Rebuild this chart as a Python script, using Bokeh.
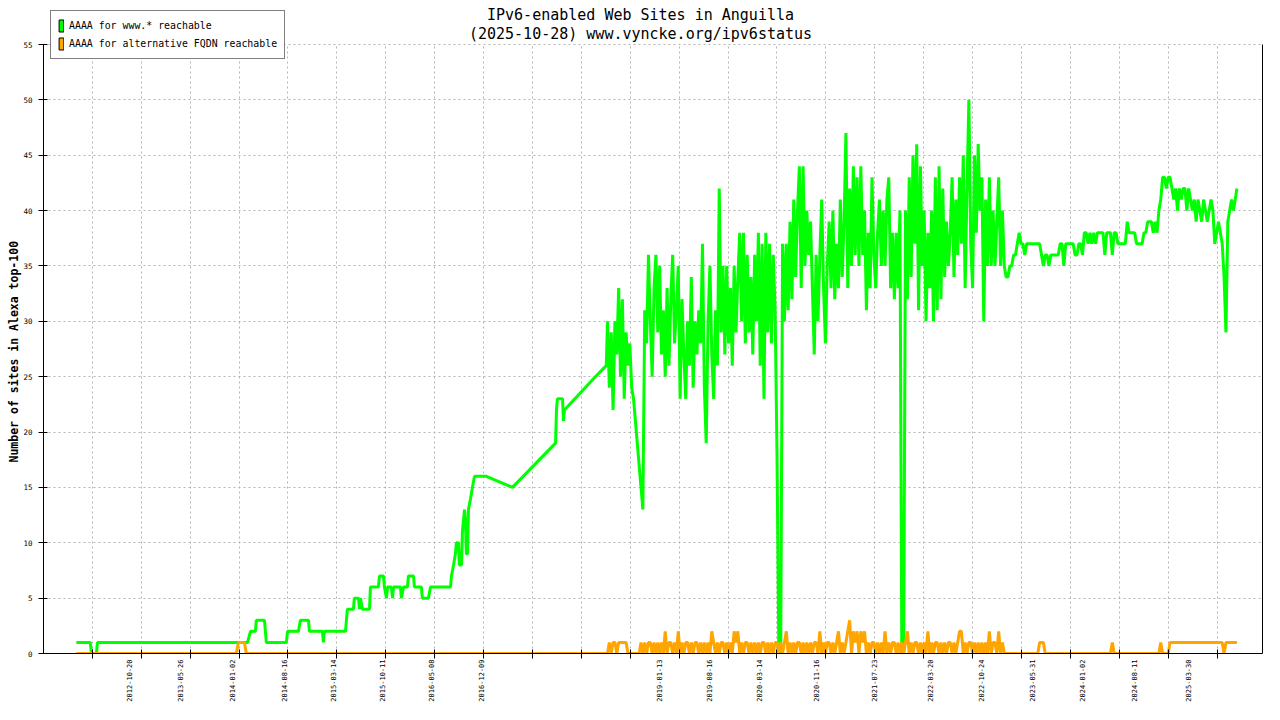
import pandas as pd
from bokeh.plotting import figure
from bokeh.models import (Range1d, FixedTicker, LinearAxis, Label, Legend, LegendItem,
                          DatetimeTickFormatter, Title)
from bokeh.embed import file_html
from bokeh.resources import INLINE

FONT = "DejaVu Sans Mono"

title_line1 = "IPv6-enabled Web Sites in Anguilla"
title_line2 = "(2025-10-28) www.vyncke.org/ipv6status"
y_label = "Number of sites in Alexa top-100"
series_names = ["AAAA for www.* reachable", "AAAA for alternative FQDN reachable"]
series_colors = ["#00ff00", "#ffa500"]

y_ticks = [0, 5, 10, 15, 20, 25, 30, 35, 40, 45, 50, 55]
y_max = 55
xtick_labels = ["2012-10-20", "2013-05-26", "2014-01-02", "2014-08-16", "2015-03-14",
                "2015-10-11", "2016-05-08", "2016-12-09", "2019-01-13", "2019-08-16",
                "2020-03-14", "2020-11-16", "2021-07-23", "2022-03-20", "2022-10-24",
                "2023-05-31", "2024-01-02", "2024-08-11", "2025-03-30"]
x_start = "2011-10-17"
x_end = "2026-02-15"
xtick_step_days = 210
xtick_count = 24

# sparse early period: www.* reachable
early_dates = ["2012-03-06", "2012-05-05", "2012-05-10", "2012-05-31", "2012-06-05",
               "2014-03-11", "2014-03-24", "2014-04-14", "2014-04-18", "2014-05-23", "2014-05-31",
               "2014-08-25", "2014-08-30", "2014-10-16", "2014-10-24", "2014-11-28", "2014-12-02",
               "2015-01-27", "2015-01-31", "2015-02-04", "2015-05-06", "2015-05-14", "2015-06-09",
               "2015-06-13", "2015-07-01", "2015-07-05", "2015-07-09", "2015-07-18", "2015-08-17",
               "2015-08-21", "2015-09-24", "2015-09-29", "2015-10-16", "2015-10-20", "2015-10-29",
               "2015-11-02", "2015-11-19", "2015-11-24", "2015-11-28", "2015-12-28", "2016-01-01",
               "2016-01-10", "2016-01-27", "2016-01-31", "2016-02-22", "2016-02-26", "2016-03-27",
               "2016-03-31", "2016-04-26", "2016-05-05", "2016-07-30", "2016-08-03", "2016-08-12",
               "2016-08-20", "2016-08-24", "2016-09-02", "2016-09-06", "2016-09-15", "2016-09-19",
               "2016-09-28", "2016-10-02", "2016-10-06", "2016-10-11", "2016-10-15", "2016-10-24",
               "2016-11-01", "2016-11-10", "2016-12-31", "2017-04-22", "2017-10-24", "2017-10-28",
               "2017-11-01", "2017-11-23", "2017-11-27", "2017-12-01", "2018-04-13", "2018-05-30"]
early_www = [1, 1, 0, 0, 1,
             1, 2, 2, 3, 3, 1,
             1, 2, 2, 3, 3, 2,
             2, 1, 2, 2, 4, 4,
             5, 5, 4, 5, 4, 4,
             6, 6, 7, 7, 6, 5,
             6, 6, 5, 6, 6, 5,
             6, 6, 7, 7, 6, 6,
             5, 5, 6, 6, 7, 8,
             9, 10, 10, 8, 8, 11,
             13, 12, 9, 9, 13, 14,
             15, 16, 16, 15, 19, 22,
             23, 23, 21, 22, 25, 26]

# sparse early period: alternative FQDN reachable
early_alt_dates = ["2012-03-06", "2014-01-22", "2014-01-31", "2014-02-26", "2014-03-06", "2018-05-30"]
early_alt = [0, 0, 1, 1, 0, 0]

# dense period, one reading every 8 days from grid_start
grid_start = "2018-06-04"
grid_step_days = 8
grid_www = [
    30, 24, 29, 22, 30, 27, 33, 25, 32, 23,
    29, 26, 28, 24, 23, 21, 19, 17, 15, 13,
    31, 28, 36, 30, 25, 33, 36, 29, 35, 27,
    31, 25, 33, 26, 32, 36, 28, 31, 35, 23,
    32, 27, 23, 30, 26, 34, 24, 30, 27, 31,
    28, 37, 24, 19, 30, 35, 27, 23, 31, 26,
    42, 29, 35, 27, 35, 28, 33, 26, 35, 29,
    34, 38, 30, 38, 28, 36, 29, 34, 27, 36,
    30, 38, 26, 37, 23, 38, 29, 37, 28, 36,
    31, 18, 0, 0, 37, 30, 37, 31, 39, 32,
    41, 34, 40, 44, 33, 44, 35, 40, 36, 39,
    33, 27, 36, 30, 36, 41, 33, 28, 35, 39,
    33, 40, 32, 37, 33, 41, 34, 39, 47, 33,
    42, 35, 44, 36, 43, 35, 44, 36, 40, 31,
    38, 33, 43, 36, 33, 38, 41, 35, 40, 35,
    41, 43, 33, 38, 32, 38, 33, 40, 0, 0,
    40, 32, 43, 34, 45, 37, 46, 31, 44, 35,
    40, 30, 38, 33, 40, 30, 43, 31, 44, 32,
    42, 34, 39, 35, 38, 43, 34, 41, 36, 43,
    37, 45, 33, 42, 50, 37, 33, 45, 38, 46,
    40, 43, 30, 41, 35, 43, 35, 40, 35, 39,
    43, 35, 40, 35,
    34, 34, 35, 35, 36, 36, 37, 38, 37, 37,
    36, 37, 37, 37, 37, 37, 37, 37, 37, 36,
    35, 36, 36, 35, 36, 36, 36, 36, 36, 37,
    37, 35, 37, 37, 37, 37, 37, 36, 36, 37,
    37, 36, 38, 38, 37, 38, 37, 38, 37, 38,
    38, 38, 38, 36, 38, 38, 38, 36, 38, 38,
    37, 37, 37, 37, 37, 39, 38, 38, 38, 38,
    37, 37, 37, 37, 38, 38, 39, 39, 39, 38,
    39, 38, 40, 41, 43, 43, 42, 43, 43, 42,
    41, 42, 40, 42, 41, 42, 42, 40, 42, 41,
    40, 41, 39, 41, 40, 39, 41, 40, 39, 40,
    41, 40, 37, 38, 39, 38, 37, 34, 29, 39,
    40, 41, 40, 41]
grid_alt = [
    0, 1, 0, 1, 1, 0, 1, 1, 1, 1,
    1, 0, 0, 0, 0, 0, 0, 0, 1, 0,
    1, 0, 1, 1, 0, 1, 0, 1, 0, 1,
    0, 2, 0, 1, 1, 0, 1, 0, 2, 0,
    1, 0, 1, 1, 0, 1, 0, 1, 1, 0,
    1, 0, 1, 0, 1, 0, 2, 1, 0, 1,
    0, 1, 1, 0, 1, 0, 1, 0, 2, 1,
    2, 0, 1, 0, 1, 1, 0, 1, 0, 1,
    0, 1, 0, 1, 1, 0, 1, 0, 1, 0,
    1, 1, 0, 1, 0, 1, 2, 0, 1, 0,
    1, 0, 1, 1, 0, 1, 0, 1, 0, 1,
    0, 1, 1, 0, 2, 0, 1, 0, 1, 1,
    0, 1, 0, 1, 2, 0, 1, 0, 1, 2,
    3, 0, 2, 1, 2, 0, 2, 1, 2, 0,
    1, 0, 1, 1, 0, 1, 0, 1, 0, 2,
    0, 1, 0, 1, 1, 0, 1, 0, 1, 0,
    1, 2, 0, 1, 0, 1, 1, 0, 1, 0,
    1, 0, 2, 0, 1, 0, 1, 1, 0, 1,
    0, 1, 0, 1, 1, 0, 1, 0, 1, 2,
    2, 0, 1, 0, 1, 1, 0, 1, 0, 1,
    0, 1, 0, 1, 0, 2, 0, 1, 1, 0,
    2, 0, 1, 0,
    0, 0, 0, 0, 0, 0, 0, 0, 0, 0,
    0, 0, 0, 0, 0, 0, 0, 0, 1, 1,
    1, 0, 0, 0, 0, 0, 0, 0, 0, 0,
    0, 0, 0, 0, 0, 0, 0, 0, 0, 0,
    0, 0, 0, 0, 0, 0, 0, 0, 0, 0,
    0, 0, 0, 0, 0, 0, 0, 1, 0, 0,
    0, 0, 0, 0, 0, 0, 0, 0, 0, 0,
    0, 0, 0, 0, 0, 0, 0, 0, 0, 0,
    0, 0, 0, 1, 0, 0, 0, 0, 1, 1,
    1, 1, 1, 1, 1, 1, 1, 1, 1, 1,
    1, 1, 1, 1, 1, 1, 1, 1, 1, 1,
    1, 1, 1, 1, 1, 1, 1, 0, 1, 1,
    1, 1, 1, 1]

last_date = "2025-10-28"
last_www = 42
last_alt = 1

# ---- assemble series ----
grid_dates = list(pd.date_range(grid_start, periods=len(grid_www), freq=f"{grid_step_days}D"))
www_x = list(pd.to_datetime(early_dates)) + grid_dates + [pd.Timestamp(last_date)]
www_y = early_www + grid_www + [last_www]
alt_x = list(pd.to_datetime(early_alt_dates)) + grid_dates + [pd.Timestamp(last_date)]
alt_y = early_alt + grid_alt + [last_alt]

label_ms = [pd.Timestamp(s).value / 1e6 for s in xtick_labels]
tick_ms = [(pd.Timestamp(x_start) + pd.Timedelta(days=xtick_step_days * n)).value / 1e6
           for n in range(1, xtick_count + 1)]

# ---- layout (pixels) ----
W, H = 1264, 704
BORDER_L, BORDER_R, BORDER_B = 43, 2, 51
FRAME_W = W - BORDER_L - BORDER_R
FRAME_H = H - BORDER_B            # frame reaches the top of the canvas
TOP_GAP = 44                      # px between frame top and the y=55 line
y_top = y_max * FRAME_H / (FRAME_H - TOP_GAP)

x0_ms = pd.Timestamp(x_start).value / 1e6
x1_ms = pd.Timestamp(x_end).value / 1e6

p = figure(width=W, height=H, output_backend="svg", toolbar_location=None,
           x_axis_type="datetime",
           x_range=Range1d(pd.Timestamp(x_start), pd.Timestamp(x_end)),
           y_range=Range1d(0, y_top),
           min_border_left=BORDER_L, min_border_right=BORDER_R,
           min_border_top=0, min_border_bottom=BORDER_B)
p.title = None
p.outline_line_color = None
p.background_fill_color = "white"
p.border_fill_color = "white"

p.line(www_x, www_y, line_color=series_colors[0], line_width=3)
p.line(alt_x, alt_y, line_color=series_colors[1], line_width=3)

# hidden bar renderers: they only give the legend its coloured boxes
sw_g = p.vbar(x=www_x, top=www_y, width=0, fill_color=series_colors[0], line_color="black",
              visible=False)
sw_o = p.vbar(x=alt_x, top=alt_y, width=0, fill_color=series_colors[1], line_color="black",
              visible=False)

legend = Legend(items=[LegendItem(label=series_names[0], renderers=[sw_g]),
                       LegendItem(label=series_names[1], renderers=[sw_o])],
                location=(7, FRAME_H - 59), margin=0, padding=7, spacing=3,
                glyph_width=6, glyph_height=15, label_height=15, label_standoff=5,
                label_text_font=FONT, label_text_font_size="9.9px", label_text_color="black",
                border_line_color="black", border_line_width=1,
                background_fill_color="white", background_fill_alpha=1.0,
                inactive_fill_alpha=0.0, click_policy="none")
p.add_layout(legend)

# x axis
xa = p.xaxis[0]
xa.ticker = FixedTicker(ticks=label_ms, minor_ticks=tick_ms)
fmt = "%Y-%m-%d"
xa.formatter = DatetimeTickFormatter(microseconds=fmt, milliseconds=fmt, seconds=fmt, minsec=fmt,
                                     minutes=fmt, hourmin=fmt, hours=fmt, days=fmt,
                                     months=fmt, years=fmt)
xa.major_label_orientation = 1.5707963267948966
xa.major_tick_line_color = None
xa.major_tick_in = 0
xa.major_tick_out = 0
xa.minor_tick_line_color = "black"
xa.minor_tick_in = 4
xa.minor_tick_out = 5
xa.major_label_standoff = 1
xa.major_label_text_font = FONT
xa.major_label_text_font_size = "7px"
xa.major_label_text_color = "black"
xa.axis_line_color = "black"

# y axis
ya = p.yaxis[0]
ya.bounds = (0, y_max)
ya.ticker = FixedTicker(ticks=y_ticks)
ya.minor_tick_line_color = None
ya.major_tick_in = 4
ya.major_tick_out = 5
ya.major_label_standoff = 6
ya.major_label_text_font = FONT
ya.major_label_text_font_size = "7.5px"
ya.major_label_text_color = "black"
ya.axis_line_color = "black"

# y axis title, placed along the 0..55 part of the axis
p.add_layout(Title(text=y_label, align="left", offset=191, standoff=0,
                   text_font=FONT, text_font_style="bold", text_font_size="11.5px",
                   text_color="black"), "left")

# right border
rax = LinearAxis(ticker=FixedTicker(ticks=[]), bounds=(0, y_max), major_label_text_font_size="0px",
                 major_tick_line_color=None, minor_tick_line_color=None,
                 major_tick_out=0, minor_tick_out=0, major_tick_in=0, minor_tick_in=0,
                 major_label_standoff=0, axis_line_color="black")
p.add_layout(rax, "right")

# grid
p.xgrid.ticker = FixedTicker(ticks=tick_ms)
p.xgrid.cross_bounds = (0, y_max)
p.ygrid.ticker = FixedTicker(ticks=y_ticks)
for g in (p.xgrid[0], p.ygrid[0]):
    g.grid_line_color = "#b4b4b4"
    g.grid_line_dash = "2 3"
    g.grid_line_width = 1

# two-line title, centred on the canvas
title_cx = x0_ms + (640 - BORDER_L) / FRAME_W * (x1_ms - x0_ms)
for text, base_px in ((title_line1, 14), (title_line2, 33)):
    p.add_layout(Label(x=title_cx, y=y_top * (FRAME_H - base_px) / FRAME_H, text=text,
                       text_align="center", text_baseline="alphabetic",
                       text_font=FONT, text_font_size="15px", text_color="black"))

open("out.html", "w").write(file_html(p, INLINE))
